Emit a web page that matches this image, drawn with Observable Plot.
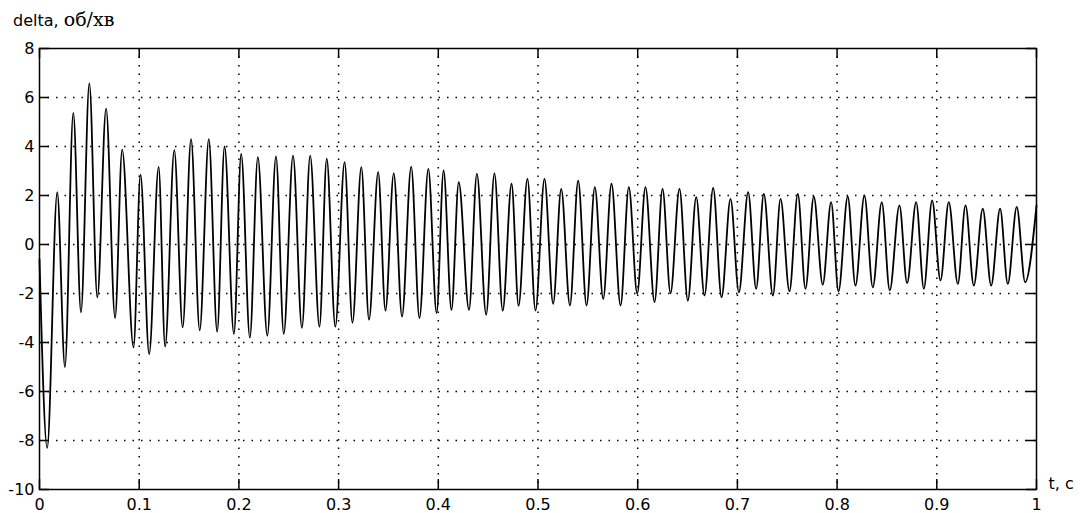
<!DOCTYPE html>
<html><head><meta charset="utf-8">
<script src="https://cdn.jsdelivr.net/npm/d3@7"></script>
<script src="https://cdn.jsdelivr.net/npm/@observablehq/plot@0.6"></script>
<style>body{margin:0;background:#fff}</style>
</head><body><div id="chart"></div>
<script>
// Extrema of the signal (time in s, delta in об/хв)
const time = [0, 0.0077, 0.0178, 0.0255, 0.0339, 0.0416, 0.050, 0.058, 0.0668, 0.0758, 0.0829, 0.0943,
  0.1013, 0.110, 0.1195, 0.126, 0.1352, 0.1436, 0.152, 0.1607, 0.1698, 0.1782, 0.1856, 0.195,
  0.2023, 0.211, 0.219, 0.2285, 0.2372, 0.245, 0.2543, 0.2632, 0.2715, 0.2808, 0.2881, 0.2967,
  0.306, 0.3139, 0.3228, 0.3305, 0.3397, 0.347, 0.3553, 0.3636, 0.3728, 0.3811, 0.39, 0.3983,
  0.4053, 0.4132, 0.4205, 0.4308, 0.4387, 0.448, 0.4563, 0.4646, 0.4735, 0.4805, 0.4894, 0.4975,
  0.5065, 0.5152, 0.5233, 0.532, 0.5403, 0.5487, 0.557, 0.5654, 0.5737, 0.5828, 0.5911, 0.5995,
  0.6078, 0.6169, 0.6249, 0.6329, 0.6419, 0.6503, 0.6587, 0.667, 0.6757, 0.6841, 0.6931, 0.7015,
  0.7108, 0.7188, 0.7265, 0.7356, 0.7433, 0.7522, 0.7606, 0.7683, 0.7766, 0.7856, 0.794, 0.8014,
  0.8107, 0.8184, 0.8274, 0.8358, 0.8448, 0.8528, 0.8625, 0.8702, 0.8793, 0.887, 0.8953, 0.9037,
  0.912, 0.9211, 0.9288, 0.9371, 0.9461, 0.9545, 0.9635, 0.9712, 0.9802, 0.9886, 1.0];
const delta = [-0.6, -8.3, 2.14, -5.0, 5.37, -2.77, 6.58, -2.16, 5.55, -3.0, 3.87, -4.2,
  2.85, -4.47, 3.17, -4.17, 3.85, -3.38, 4.3, -3.5, 4.3, -3.56, 4.0, -3.65,
  3.7, -3.8, 3.57, -3.72, 3.6, -3.65, 3.63, -3.4, 3.63, -3.35, 3.5, -3.35,
  3.36, -3.2, 3.16, -3.07, 2.95, -2.7, 2.9, -2.94, 3.18, -3.0, 3.09, -2.8,
  3.02, -2.67, 2.54, -2.67, 2.88, -2.87, 2.9, -2.7, 2.48, -2.5, 2.68, -2.7,
  2.68, -2.42, 2.27, -2.49, 2.61, -2.49, 2.34, -2.22, 2.48, -2.49, 2.34, -2.0,
  2.34, -2.35, 2.27, -1.99, 2.27, -2.29, 1.93, -2.08, 2.31, -2.15, 1.86, -1.95,
  2.14, -1.81, 2.07, -2.08, 1.86, -1.91, 2.07, -1.81, 1.96, -1.64, 1.73, -1.91,
  1.96, -1.68, 2.0, -1.75, 1.73, -1.88, 1.6, -1.58, 1.73, -1.81, 1.8, -1.47,
  1.73, -1.61, 1.6, -1.68, 1.46, -1.68, 1.46, -1.61, 1.53, -1.54, 1.6];

const xTicks = [0, 0.1, 0.2, 0.3, 0.4, 0.5, 0.6, 0.7, 0.8, 0.9, 1];
const xTickLabels = ["0", "0.1", "0.2", "0.3", "0.4", "0.5", "0.6", "0.7", "0.8", "0.9", "1"];
const yTicks = [-10, -8, -6, -4, -2, 0, 2, 4, 6, 8];
const yTickLabels = ["-10", "-8", "-6", "-4", "-2", "0", "2", "4", "6", "8"];
const yLabelSans = "delta, ";
const yLabelSerif = "об/хв";
const xLabel = "t, c";

const data = time.map((t, i) => ({t, v: delta[i]}));
const W = 1080, H = 513, mL = 39, mR = 44, mT = 48, mB = 24, tickLen = 10;
const fw = W - mL - mR, fh = H - mT - mB;
const xLab = new Map(xTicks.map((d, i) => [d, xTickLabels[i]]));
const yLab = new Map(yTicks.map((d, i) => [d, yTickLabels[i]]));
const gridStyle = {stroke: "#000", strokeOpacity: 1, strokeWidth: 1.5, strokeDasharray: "1.5,7"};
const tickStyle = {stroke: "#000", strokeWidth: 1.5};

const plot = Plot.plot({
  width: W, height: H,
  marginLeft: mL, marginRight: mR, marginTop: mT, marginBottom: mB,
  style: {fontFamily: "'DejaVu Sans', sans-serif", fontSize: "16px", background: "#fff", color: "#000"},
  x: {domain: [0, 1]},
  y: {domain: [-10, 8]},
  marks: [
    Plot.gridX(xTicks.slice(1, -1), gridStyle),
    Plot.gridY(yTicks.slice(1, -1), gridStyle),
    Plot.line(data, {x: "t", y: "v", stroke: "#000", strokeWidth: 1.8, curve: "monotone-x"}),
    Plot.tickX(xTicks, {x: d => d, ...tickStyle, insetTop: fh - tickLen}),
    Plot.tickX(xTicks, {x: d => d, ...tickStyle, insetBottom: fh - tickLen}),
    Plot.tickY(yTicks, {y: d => d, ...tickStyle, insetRight: fw - tickLen}),
    Plot.tickY(yTicks, {y: d => d, ...tickStyle, insetLeft: fw - tickLen}),
    Plot.axisX({ticks: xTicks, tickSize: 0, tickPadding: 9, tickFormat: d => xLab.get(d), label: null}),
    Plot.axisY({ticks: yTicks, tickSize: 0, tickPadding: 5, tickFormat: d => yLab.get(d), label: null}),
    Plot.frame({stroke: "#000", strokeWidth: 1.5}),
    Plot.text([xLabel], {frameAnchor: "bottom-right", text: d => d, dx: 12, dy: -1,
      textAnchor: "start", lineAnchor: "bottom", fontSize: 16})
  ]
});
document.getElementById("chart").appendChild(plot);

// y label with mixed fonts (sans + serif Cyrillic), as in the reference
const svg = d3.select(plot);
const lab = svg.append("text").attr("x", 13).attr("y", 26).attr("fill", "#000")
  .attr("text-anchor", "start");
lab.append("tspan").attr("font-family", "'DejaVu Sans', sans-serif").attr("font-size", 16).text(yLabelSans);
lab.append("tspan").attr("font-family", "'DejaVu Serif', serif").attr("font-size", 19).text(yLabelSerif);
</script>
</body></html>
